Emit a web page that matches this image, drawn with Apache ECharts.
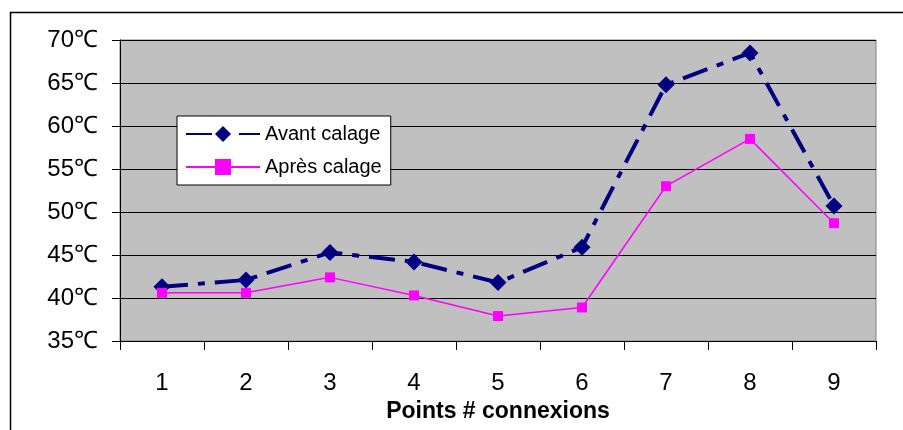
<!DOCTYPE html>
<html>
<head>
<meta charset="utf-8">
<script src="https://cdn.jsdelivr.net/npm/echarts@6/dist/echarts.min.js"></script>
<style>html,body{margin:0;padding:0;background:#fff}#c{width:903px;height:430px}</style>
</head>
<body>
<div id="c"></div>
<script>
var categories = ['1','2','3','4','5','6','7','8','9'];
var avantCalage = [41.3, 42.1, 45.3, 44.2, 41.8, 45.9, 64.8, 68.5, 50.7];
var apresCalage = [40.6, 40.6, 42.4, 40.3, 37.9, 38.9, 53.0, 58.5, 48.7];
var seriesNames = ['Avant calage', 'Après calage'];
var xTitle = 'Points # connexions';
var yMin = 35, yMax = 70, yStep = 5;

var FONT = '"Liberation Sans", Arial, sans-serif';
var chart = echarts.init(document.getElementById('c'), null, {renderer: 'canvas'});
chart.setOption({
  animation: false,
  backgroundColor: '#ffffff',
  graphic: [{
    type: 'rect', left: 8, top: 10, z: -10,
    shape: {width: 1000, height: 1000},
    style: {fill: 'none', stroke: '#000', lineWidth: 1.5}
  }],
  grid: {
    left: 120, top: 40, width: 756, height: 301,
    show: true, backgroundColor: '#C0C0C0', borderColor: '#808080', borderWidth: 1
  },
  legend: {
    orient: 'vertical', left: 177, top: 116,
    backgroundColor: '#fff', borderColor: '#000', borderWidth: 1,
    padding: [8, 9, 8, 8], itemWidth: 74, itemHeight: 20, itemGap: 13,
    textStyle: {fontFamily: FONT, fontSize: 20, color: '#000'},
    data: seriesNames
  },
  xAxis: {
    type: 'category', data: categories, boundaryGap: true,
    name: xTitle, nameLocation: 'middle', nameGap: 55,
    nameTextStyle: {fontFamily: FONT, fontSize: 23, fontWeight: 'bold', color: '#000'},
    axisLine: {lineStyle: {color: '#000', width: 1}},
    axisTick: {show: true, length: 9, lineStyle: {color: '#000'}},
    axisLabel: {fontFamily: FONT, fontSize: 24, color: '#000', margin: 30},
    splitLine: {show: false}
  },
  yAxis: {
    type: 'value', min: yMin, max: yMax, interval: yStep,
    axisLine: {show: true, lineStyle: {color: '#000', width: 1}},
    axisTick: {show: true, length: 8, lineStyle: {color: '#000'}},
    axisLabel: {fontFamily: FONT, fontSize: 24, color: '#000', margin: 22, formatter: '{value}℃'},
    splitLine: {show: true, lineStyle: {color: '#000', width: 1}}
  },
  series: [{
    name: seriesNames[0], type: 'line', data: avantCalage,
    symbol: 'diamond', symbolSize: 17,
    itemStyle: {color: '#000080'},
    lineStyle: {color: '#000080', width: 4, type: [26, 10, 7, 10]}
  }, {
    name: seriesNames[1], type: 'line', data: apresCalage,
    symbol: 'rect', symbolSize: 10,
    itemStyle: {color: '#FF00FF'},
    lineStyle: {color: '#FF00FF', width: 1.5, type: 'solid'}
  }]
});
</script>
</body>
</html>
